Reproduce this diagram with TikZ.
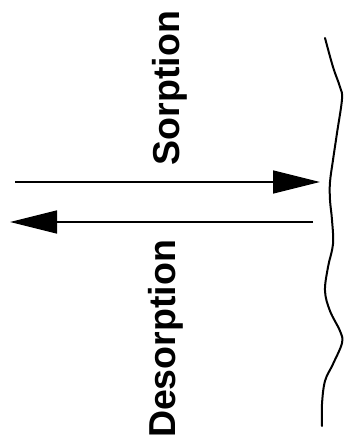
\documentclass[tikz,border=0pt]{standalone}
\usepackage{fontspec}
\setmainfont{Liberation Sans}
\usetikzlibrary{arrows.meta}
\begin{document}
\begin{tikzpicture}[x=1pt,y=-1pt,
  lbl/.style={font=\bfseries\fontsize{37.5}{40}\selectfont, rotate=90, anchor=base, inner sep=0pt},
  flow/.style={line width=1.4pt, -{Triangle[length=47pt,width=23pt]}},
  surf/.style={line width=2pt, line cap=round, line join=round}]
\useasboundingbox (0,0) rectangle (344,447);
\node[lbl] (sorp) at (179,88) {Sorption};
\node[lbl] (desorp) at (175,339) {Desorption};
\coordinate (s1) at (15,182);
\coordinate (s2) at (320,182);
\coordinate (d1) at (313,222);
\coordinate (d2) at (10,222);
\draw[flow] (s1) -- (s2);
\draw[flow] (d1) -- (d2);
\draw[surf] plot[smooth, tension=0.6] coordinates {
 (325,38) (333,67) (340,87) (342,99) (337,133) (333,160) (330,182) (330,200) (332,220)
 (333,244) (328,267) (325,291) (330,311) (340,331) (342,343) (333,364) (325,381) (322,404) (322,426)};
\end{tikzpicture}
\end{document}
